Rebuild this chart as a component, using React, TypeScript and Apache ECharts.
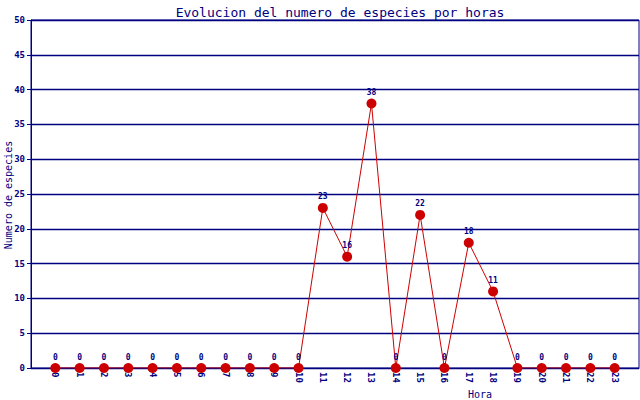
import React, { useEffect, useRef } from "react";
import * as echarts from "echarts";

const hours = ["0","1","2","3","4","5","6","7","8","9","10","11","12","13","14","15","16","17","18","19","20","21","22","23"];
const species = [0,0,0,0,0,0,0,0,0,0,0,23,16,38,0,22,0,18,11,0,0,0,0,0];
const yTicks = { min: 0, max: 50, interval: 5 };

const NAVY = "#000080";
const RED = "#cc0000";
const MONO = "'DejaVu Sans Mono', 'Liberation Mono', monospace";

export default function App() {
  const ref = useRef<HTMLDivElement>(null);
  useEffect(() => {
    document.body.style.margin = "0";
    const chart = echarts.init(ref.current!, undefined, { renderer: "svg" });
    chart.setOption({
      animation: false,
      backgroundColor: "#ffffff",
      title: {
        text: "Evolucion del numero de especies por horas",
        left: 335,
        textAlign: "center",
        top: 1,
        textStyle: { fontFamily: MONO, fontSize: 13, fontWeight: "normal", color: NAVY },
      },
      grid: {
        left: 31, right: 1, top: 20, bottom: 32,
        show: true, borderColor: NAVY, borderWidth: 1, backgroundColor: "transparent",
      },
      xAxis: {
        type: "value",
        min: -1, max: 24, interval: 1,
        axisLine: { show: true, onZero: false, lineStyle: { color: NAVY, width: 1 } },
        axisTick: { show: false },
        splitLine: { show: false },
        axisLabel: {
          rotate: -90,
          margin: 4,
          color: NAVY,
          fontFamily: MONO,
          fontSize: 9,
          fontWeight: "bold",
          formatter: (v: number) => (v >= 0 && v < hours.length ? hours[v] : ""),
        },
      },
      yAxis: {
        type: "value",
        min: yTicks.min, max: yTicks.max, interval: yTicks.interval,
        axisLine: { show: true, onZero: false, lineStyle: { color: NAVY, width: 1 } },
        axisTick: { show: true, length: 4, lineStyle: { color: NAVY } },
        splitLine: { show: true, lineStyle: { color: NAVY, width: 1.3 } },
        axisLabel: { color: NAVY, fontFamily: MONO, fontSize: 9, fontWeight: "bold", margin: 6 },
      },
      graphic: [
        {
          type: "text",
          x: 8, y: 195, rotation: Math.PI / 2,
          style: {
            text: "Numero de especies",
            fill: NAVY, font: `10px ${MONO}`,
            textAlign: "center", textVerticalAlign: "middle",
          },
        },
        {
          type: "text",
          x: 480, y: 394,
          style: {
            text: "Hora",
            fill: NAVY, font: `10px ${MONO}`,
            textAlign: "center", textVerticalAlign: "middle",
          },
        },
      ],
      series: [
        {
          type: "line",
          data: species.map((v, i) => [i, v]),
          symbol: "circle",
          symbolSize: 10,
          lineStyle: { color: RED, width: 1 },
          itemStyle: { color: RED },
          label: {
            show: true, position: "top", distance: 2,
            color: NAVY, fontFamily: MONO, fontSize: 8, fontWeight: "bold",
          },
          z: 3,
        },
      ],
    });
    return () => chart.dispose();
  }, []);
  return <div ref={ref} style={{ width: 640, height: 400 }} />;
}
